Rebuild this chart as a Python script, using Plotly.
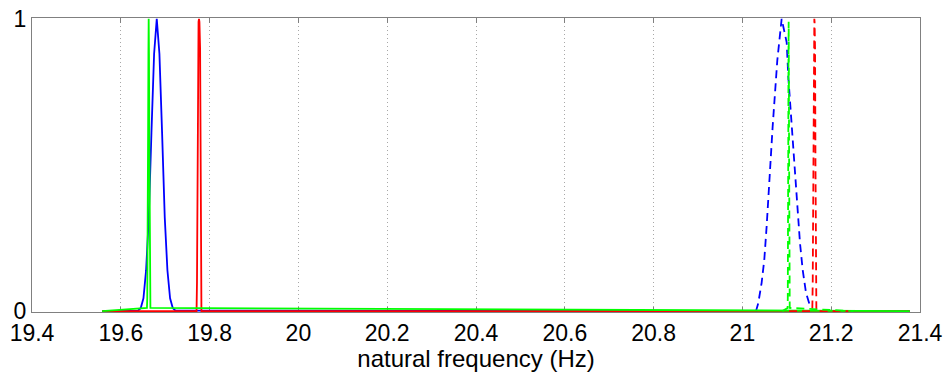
import plotly.graph_objects as go

# ---- data ----
x_min, x_max = 19.558, 21.377  # extent of the computed curves

# blue solid
blue_solid_x = [x_min, 19.639, 19.645, 19.651, 19.657, 19.663, 19.669, 19.675, 19.681,
                19.687, 19.693, 19.699, 19.705, 19.711, 19.717, 19.723, x_max]
blue_solid_y = [0, 0.002, 0.011, 0.044, 0.14, 0.32, 0.61, 0.88, 1.0,
                0.88, 0.61, 0.32, 0.14, 0.044, 0.011, 0.002, 0]

# red solid
red_solid_x = [x_min, 19.7706, 19.7716, 19.7726, 19.7736, 19.7751, 19.7761,
               19.7771, 19.7786, 19.7796, 19.7806, 19.7816, x_max]
red_solid_y = [0, 0.0, 0.1, 0.5, 0.9, 0.99, 1.0,
               0.99, 0.9, 0.5, 0.1, 0.0, 0]

# green solid
green_solid_x = [x_min, 19.6589, 19.6596, 19.6602, 19.6609, 19.6615, 19.6622, 19.6628,
                 19.6635, 19.6641, 19.6648, 19.6654, 19.6661, 19.6667, x_max]
green_solid_y = [0, 0.011, 0.044, 0.14, 0.32, 0.61, 0.88, 1.0,
                 0.88, 0.61, 0.32, 0.14, 0.044, 0.011, 0]

# blue dashed
blue_dash_x = [21.0306, 21.0358, 21.0433, 21.0493, 21.0546, 21.0599, 21.0636, 21.0681,
               21.0726, 21.0786, 21.0884, 21.0997, 21.1034, 21.1087, 21.1132, 21.1184,
               21.1237, 21.1297, 21.1357, 21.1432, 21.1537]
blue_dash_y = [0.0, 0.028, 0.097, 0.176, 0.29, 0.403, 0.517, 0.631,
               0.744, 0.858, 1.0, 0.92, 0.801, 0.688, 0.574, 0.46,
               0.347, 0.233, 0.142, 0.063, 0.011]

# red dashed
red_dash_x = [21.105, 21.1574, 21.1584, 21.1594, 21.1604, 21.1614, 21.1620,
              21.1626, 21.1636, 21.1646, 21.1656, 21.1666, 21.245]
red_dash_y = [0, 0.0, 0.1, 0.5, 0.9, 0.99, 1.0,
              0.99, 0.9, 0.5, 0.1, 0.0, 0]

# green dashed
green_dash_x = [21.09, 21.1018, 21.1022, 21.1026, 21.1030, 21.1034, 21.1038, 21.1042,
                21.1046, 21.1050, 21.1054, 21.1058, 21.1062, 21.1066, 21.25]
green_dash_y = [0, 0.011, 0.044, 0.14, 0.32, 0.6, 0.87, 0.99,
                0.87, 0.6, 0.32, 0.14, 0.044, 0.011, 0]

x_ticks = [19.4, 19.6, 19.8, 20.0, 20.2, 20.4, 20.6, 20.8, 21.0, 21.2, 21.4]
x_tick_text = ["19.4", "19.6", "19.8", "20", "20.2", "20.4", "20.6", "20.8", "21", "21.2", "21.4"]
y_ticks = [0, 1]
y_tick_text = ["0", "1"]

BLUE, GREEN, RED = "rgb(0,0,255)", "rgb(0,255,0)", "rgb(255,0,0)"
DASH = "8px,5px"

fig = go.Figure()
traces = [
    (blue_solid_x, blue_solid_y, BLUE, "solid"),
    (red_solid_x, red_solid_y, RED, "solid"),
    (blue_dash_x, blue_dash_y, BLUE, DASH),
    (green_solid_x, green_solid_y, GREEN, "solid"),
    (red_dash_x, red_dash_y, RED, DASH),
    (green_dash_x, green_dash_y, GREEN, DASH),
]
for xs, ys, col, dash in traces:
    fig.add_trace(go.Scatter(x=xs, y=ys, mode="lines",
                             line=dict(color=col, width=1.8, dash=dash),
                             showlegend=False, hoverinfo="skip"))

font = dict(family="Liberation Sans, Arial, sans-serif", size=23, color="black")
title_font = dict(family="Liberation Sans, Arial, sans-serif", size=24, color="black")
fig.update_layout(
    width=948, height=372,
    margin=dict(l=32, r=28, t=18, b=60),
    paper_bgcolor="white", plot_bgcolor="white",
    font=font,
    xaxis=dict(range=[19.4, 21.4], tickvals=x_ticks, ticktext=x_tick_text,
               showline=True, linecolor="#808080", linewidth=1, mirror="ticks",
               ticks="inside", ticklen=5, tickcolor="#808080",
               showgrid=True, gridcolor="#a8a8a8", griddash="1px,3px", gridwidth=1,
               zeroline=False, layer="below traces", automargin=False,
               title=dict(text="natural frequency (Hz)", standoff=2, font=title_font),
               tickfont=font),
    yaxis=dict(range=[-0.003, 1.003], tickvals=y_ticks, ticktext=y_tick_text,
               showline=True, linecolor="#808080", linewidth=1, mirror="ticks",
               ticks="inside", ticklen=5, tickcolor="#808080",
               showgrid=False, zeroline=False, layer="below traces", automargin=False,
               tickfont=font),
)
fig.write_html("out.html")
